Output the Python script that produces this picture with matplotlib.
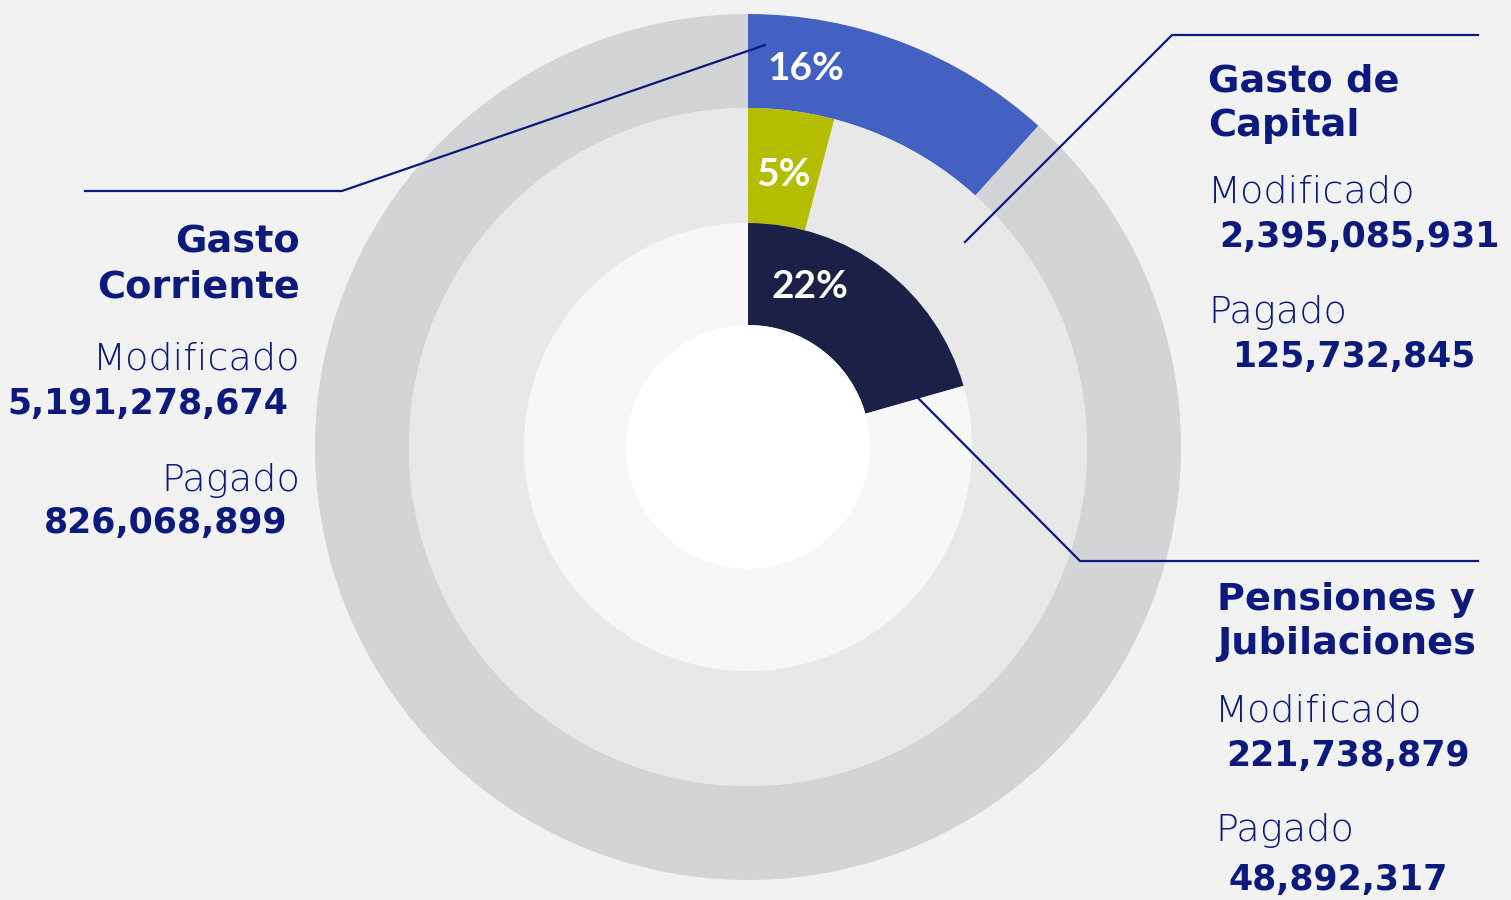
import matplotlib.pyplot as plt

# categories and values (ring order: outer, middle, inner)
categorias = ['Gasto\nCorriente', 'Gasto de\nCapital', 'Pensiones y\nJubilaciones']
modificado = ['5,191,278,674', '2,395,085,931', '221,738,879']
pagado = ['826,068,899', '125,732,845', '48,892,317']
pct_labels = ['16%', '5%', '22%']
# share of each ring that is filled, as drawn in the picture
fill_share = [0.117, 0.041, 0.206]

colores = ['#4361c2', '#b4bd00', '#1a2046']
fondos = ['#d3d4d6', '#e8e8e8', '#f7f7f7']
navy = '#0b1a7c'
bg = '#f2f2f2'

W, H = 1511, 900
fig = plt.figure(figsize=(W / 100, H / 100), dpi=100, facecolor=bg)
ax = fig.add_axes([0, 0, 1, 1])
ax.set_facecolor(bg)

cx, cy = 748, H - 447
radios = [433, 339, 224]
anchos = [94, 115, 102]

for share, col, fondo, r, w in zip(fill_share, colores, fondos, radios, anchos):
    ax.pie([share, 1 - share], colors=[col, fondo], radius=r, center=(cx, cy),
           startangle=90, counterclock=False,
           wedgeprops=dict(width=w, linewidth=0))
# white hole
ax.pie([1], colors=['white'], radius=122, center=(cx, cy), wedgeprops=dict(linewidth=0))

ax.set_xlim(0, W)
ax.set_ylim(0, H)
ax.set_aspect('equal')
ax.axis('off')

def P(x, y):
    return x, H - y

# percent labels
for lab, (x, y) in zip(pct_labels, [(806, 68), (783, 174), (810, 287)]):
    ax.text(*P(x, y), lab, color='white', fontsize=28, fontweight='bold',
            family='Lato', ha='center', va='center')

# leader lines
lw = 1.6
ax.plot(*zip(P(85, 191), P(342, 191), P(765, 45)), color=navy, lw=lw)
ax.plot(*zip(P(965, 242), P(1172, 35), P(1478, 35)), color=navy, lw=lw)
ax.plot(*zip(P(918, 398), P(1080, 561), P(1478, 561)), color=navy, lw=lw)

tit_kw = dict(color=navy, fontsize=27.5, fontweight='bold', family='DejaVu Sans',
              va='center', linespacing=1.32)
lab_kw = dict(color=navy, fontsize=27.5, fontweight='light', family='DejaVu Sans', va='center')
num_kw = dict(color=navy, fontsize=25, fontweight='bold', family='DejaVu Sans', va='center')

# left block: Gasto Corriente
ax.text(*P(300, 265), categorias[0], ha='right', **tit_kw)
ax.text(*P(300, 359), 'Modificado', ha='right', **lab_kw)
ax.text(*P(288, 404), modificado[0], ha='right', **num_kw)
ax.text(*P(300, 480), 'Pagado', ha='right', **lab_kw)
ax.text(*P(288, 523), pagado[0], ha='right', **num_kw)

# right block: Gasto de Capital
ax.text(*P(1208, 104), categorias[1], ha='left', **tit_kw)
ax.text(*P(1208, 192), 'Modificado', ha='left', **lab_kw)
ax.text(*P(1219, 237), modificado[1], ha='left', **num_kw)
ax.text(*P(1208, 312), 'Pagado', ha='left', **lab_kw)
ax.text(*P(1232, 357), pagado[1], ha='left', **num_kw)

# right block: Pensiones y Jubilaciones
ax.text(*P(1217, 622), categorias[2], ha='left', **tit_kw)
ax.text(*P(1215, 711), 'Modificado', ha='left', **lab_kw)
ax.text(*P(1226, 756), modificado[2], ha='left', **num_kw)
ax.text(*P(1215, 831), 'Pagado', ha='left', **lab_kw)
ax.text(*P(1228, 880), pagado[2], ha='left', **num_kw)

plt.savefig('out.png', dpi=100, facecolor=bg)
